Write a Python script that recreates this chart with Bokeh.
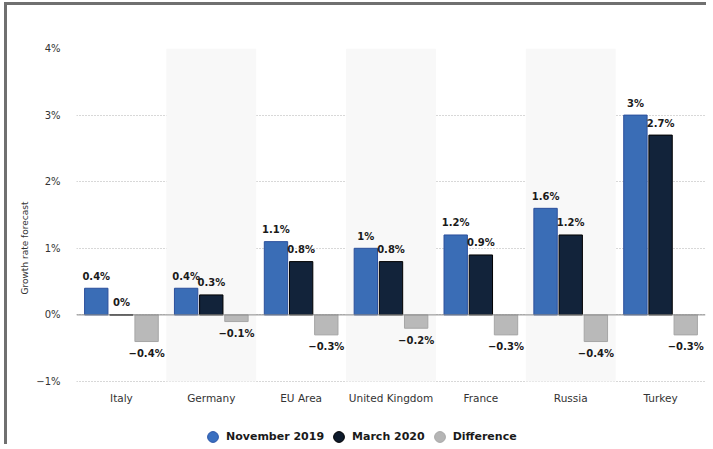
from bokeh.plotting import figure
from bokeh.models import FactorRange, Range1d, ColumnDataSource, FixedTicker, Span, Legend, LegendItem
from bokeh.transform import dodge
from bokeh.core.properties import value
from bokeh.embed import file_html
from bokeh.resources import INLINE

countries = ["Italy", "Germany", "EU Area", "United Kingdom", "France", "Russia", "Turkey"]
nov_2019 = [0.4, 0.4, 1.1, 1.0, 1.2, 1.6, 3.0]
mar_2020 = [0.0, 0.3, 0.8, 0.8, 0.9, 1.2, 2.7]
difference = [-0.4, -0.1, -0.3, -0.2, -0.3, -0.4, -0.3]
series_names = ["November 2019", "March 2020", "Difference"]
y_ticks = [-1, 0, 1, 2, 3, 4]
y_tick_labels = ["\u22121%", "0%", "1%", "2%", "3%", "4%"]
shaded = ["Germany", "United Kingdom", "Russia"]

FONT = "DejaVu Sans"
fills = ["#3a6db6", "#12233a", "#b9b9b9"]
lines = ["#2b4f9c", "#000000", "#a6a6a6"]
offsets = [-0.28, 0.0, 0.28]

# layout (pixels)
FIG_W, FIG_H = 702, 442
TOP, LEFT, RIGHT = 43, 69, 4
Y_MIN_TICK, Y_MAX_TICK = -1, 4
px_per_unit = (376 - TOP) / (Y_MAX_TICK - Y_MIN_TICK)
y_start = Y_MIN_TICK - (FIG_H - 376) / px_per_unit


def fmt(v):
    return f"{v:g}%".replace("-", "\u2212")


p = figure(x_range=FactorRange(*countries), y_range=Range1d(y_start, Y_MAX_TICK),
           width=FIG_W, height=FIG_H, output_backend="svg", toolbar_location=None,
           min_border_left=LEFT, min_border_right=RIGHT, min_border_top=TOP, min_border_bottom=0)
p.styles = {"margin-left": "7px", "margin-top": "5px",
            "box-shadow": "-3px -3px 0px 0px #707070"}
p.outline_line_color = None
p.background_fill_color = "white"
p.border_fill_color = "white"

# alternating bands
p.vbar(x=shaded, top=Y_MAX_TICK, bottom=Y_MIN_TICK, width=1, fill_color="#f8f8f8", line_color=None)

# grid
p.xgrid.visible = False
p.ygrid.grid_line_color = "#b0b0b0"
p.ygrid.grid_line_dash = "1 2"
p.ygrid.grid_line_width = 1
p.ygrid.ticker = FixedTicker(ticks=y_ticks)

p.add_layout(Span(location=0, dimension="width", line_color="#8a8a8a", line_width=1))

for vals, off, fc, lc in zip([nov_2019, mar_2020, difference], offsets, fills, lines):
    src = ColumnDataSource(dict(
        country=countries,
        val=vals,
        lab=[fmt(v) for v in vals],
        yoff=[12 if v < 0 else -12 for v in vals],
    ))
    p.vbar(x=dodge("country", off, range=p.x_range), top="val", bottom=0, width=0.26,
           source=src, fill_color=fc, line_color=lc, line_width=1)
    p.text(x=dodge("country", off, range=p.x_range), y="val", text="lab", source=src,
           y_offset="yoff", text_align="center", text_baseline="middle",
           text_font=value(FONT), text_font_size="10px", text_font_style="bold",
           text_color="#1a1a1a")

# category labels (x axis)
p.text(x=countries, y=[Y_MIN_TICK] * len(countries), text=countries, y_offset=16,
       text_align="center", text_baseline="middle", text_font=value(FONT),
       text_font_size="10.5px", text_color="#333333")
p.xaxis.visible = False

# y axis
p.yaxis.ticker = FixedTicker(ticks=y_ticks)
p.yaxis.major_label_overrides = {t: l for t, l in zip(y_ticks, y_tick_labels)}
p.yaxis.axis_line_color = None
p.yaxis.major_tick_line_color = None
p.yaxis.minor_tick_line_color = None
p.yaxis.major_label_standoff = 10
p.yaxis.major_label_text_font = FONT
p.yaxis.major_label_text_font_size = "10px"
p.yaxis.major_label_text_color = "#333333"
p.yaxis.axis_label = "Growth rate forecast"
p.yaxis.axis_label_text_font = FONT
p.yaxis.axis_label_text_font_size = "9px"
p.yaxis.axis_label_text_font_style = "normal"
p.yaxis.axis_label_text_color = "#333333"
p.yaxis.axis_label_standoff = 3

# legend (dummy, undrawn points only provide the legend glyphs)
items = []
leg_fills = ["#3a6fc0", "#0e1b2c", "#b5b5b5"]
leg_lines = ["#2b55a8", "#000000", "#a8a8a8"]
for name, fc, lc in zip(series_names, leg_fills, leg_lines):
    r = p.scatter(x=[countries[0]], y=[float("nan")], size=11, marker="circle",
                  fill_color=fc, line_color=lc)
    items.append(LegendItem(label=name, renderers=[r], index=0))

legend = Legend(items=items, orientation="horizontal", location=(123, -3))
legend.background_fill_alpha = 0
legend.border_line_color = None
legend.padding = 0
legend.margin = 0
legend.spacing = 1
legend.glyph_width = 27
legend.glyph_height = 27
legend.label_height = 27
legend.label_standoff = 0
legend.label_text_font = FONT
legend.label_text_font_size = "11px"
legend.label_text_font_style = "bold"
legend.label_text_color = "#1a1a1a"
p.add_layout(legend, "center")

open("out.html", "w").write(file_html(p, INLINE))
